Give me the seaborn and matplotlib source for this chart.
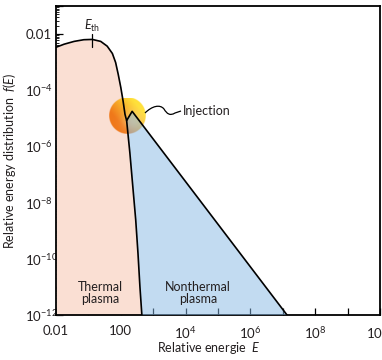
import numpy as np
import matplotlib
matplotlib.use("Agg")
import matplotlib.pyplot as plt
import seaborn as sns
from matplotlib.path import Path
from matplotlib.patches import PathPatch

# ---------------- data (axis positions in decades) ----------------
thermal_logE = [0.0, 0.25, 0.56, 0.86, 1.12, 1.38, 1.58, 1.74, 1.84, 1.92, 2.00, 2.07, 2.13,
                2.18, 2.28, 2.37, 2.46, 2.53, 2.59, 2.65]
thermal_logf = [-2.47, -2.36, -2.26, -2.20, -2.19, -2.26, -2.43, -2.69, -3.01, -3.43, -3.90, -4.38, -4.86,
                -5.08, -6.23, -7.42, -8.61, -9.80, -10.99, -12.0]
nonthermal_logE = [2.18, 2.35, 7.13]
nonthermal_logf = [-5.08, -4.75, -12.0]
eth_logE = 1.12
x_tick_pos = [0, 2, 4, 6, 8, 10]
x_tick_labels = ["0.01", "100", "$10^4$", "$10^6$", "$10^8$", "$10^{10}$"]
y_tick_pos = [-12, -10, -8, -6, -4, -2]
y_tick_labels = ["$10^{-12}$", "$10^{-10}$", "$10^{-8}$", "$10^{-6}$", "$10^{-4}$", "0.01"]
region_labels = ["Thermal\nplasma", "Nonthermal\nplasma"]
region_label_logE = [1.36, 4.38]

PINK = "#fadfd3"
BLUE = "#86b9e5"
TEXT = "#231f20"
FS = 9

sns.set_theme(style="ticks")
plt.rcParams["font.family"] = ["Lato", "DejaVu Sans"]
plt.rcParams["mathtext.fontset"] = "custom"
plt.rcParams["mathtext.rm"] = "Lato"
plt.rcParams["mathtext.it"] = "Lato:italic"
plt.rcParams["mathtext.bf"] = "Lato:bold"

th_E = 10.0 ** np.array(thermal_logE)
th_f = 10.0 ** np.array(thermal_logf)
nt_E = 10.0 ** np.array(nonthermal_logE)
nt_f = 10.0 ** np.array(nonthermal_logf)
YMIN, YMAX = 1e-12, 1e-1

fig, ax = plt.subplots(figsize=(3.82, 3.6), dpi=100)
fig.subplots_adjust(left=56 / 382, right=380 / 382, bottom=1 - 315 / 360, top=1 - 6 / 360)
ax.set_xscale("log")
ax.set_yscale("log")

# thermal region
ax.fill_between(th_E, th_f, YMIN, color=PINK, lw=0, zorder=1)
# nonthermal region: between the nonthermal line and the thermal curve
mask = np.array(thermal_logE) >= nonthermal_logE[0]
poly_E = np.concatenate([nt_E, th_E[mask][::-1]])
poly_f = np.concatenate([nt_f, th_f[mask][::-1]])
ax.fill(poly_E, poly_f, color=BLUE, alpha=0.5, lw=0, zorder=3)

# injection sphere
N = 240
u = np.linspace(-1, 1, N)
U, V = np.meshgrid(u, u)
R = np.sqrt(U ** 2 + V ** 2)
orange = np.array([0.94, 0.47, 0.10])
yellow = np.array([1.0, 0.88, 0.22])
t = np.clip(0.42 + 0.75 * (0.75 * U + 0.65 * V), 0, 1)[..., None]
base = orange * (1 - t) + yellow * t
h = np.exp(-((U - 0.3) ** 2 + (V + 0.3) ** 2) / 0.3)[..., None]
light = np.array([1.0, 0.98, 0.85])
col = base * (1 - 0.4 * h) + light * 0.4 * h
alpha = np.clip((1 - R) * N / 4, 0, 1)
img = np.dstack([col, alpha])
cx, cy, r = (127 - 56) / 324, (315 - 116) / 309, 18.5
iax = ax.inset_axes([cx - r / 324, cy - r / 309, 2 * r / 324, 2 * r / 309], zorder=2)
iax.imshow(img, extent=[-1, 1, -1, 1], origin="lower", aspect="auto", interpolation="bilinear")
iax.set_axis_off()

# curves
sns.lineplot(x=th_E, y=th_f, color="black", lw=1.2, sort=False, estimator=None, ax=ax, zorder=4)
sns.lineplot(x=nt_E, y=nt_f, color="black", lw=1.2, sort=False, estimator=None, ax=ax, zorder=4)

# E_th marker
ax.plot([10 ** eth_logE] * 2, [10 ** -2.0, 10 ** -2.46], color="black", lw=0.9, zorder=4)
ax.text(10 ** eth_logE, 10 ** -1.72, r"$E_{\mathrm{th}}$", ha="center", va="center", fontsize=FS, color=TEXT)

# injection connector and label
def fx(px):
    return (px - 56) / 324
def fy(py):
    return (315 - py) / 309
verts = [(fx(145), fy(113)), (fx(152), fy(106)), (fx(160), fy(104)), (fx(164), fy(109)),
         (fx(167), fy(114)), (fx(170), fy(116)), (fx(175), fy(113)), (fx(181), fy(111))]
codes = [Path.MOVETO, Path.CURVE4, Path.CURVE4, Path.CURVE4, Path.CURVE4, Path.CURVE4, Path.CURVE4, Path.LINETO]
ax.add_patch(PathPatch(Path(verts, codes), transform=ax.transAxes, fill=False, lw=0.9, color="black", zorder=5))
ax.text(fx(183), fy(111), "Injection", transform=ax.transAxes, ha="left", va="center", fontsize=FS, color=TEXT)

# region labels
for lbl, le in zip(region_labels, region_label_logE):
    ax.text(10 ** le, 10 ** -11.2, lbl, ha="center", va="center", fontsize=FS, color=TEXT, linespacing=1.0, zorder=6)

# axes
ax.set_xlim(1, 1e10)
ax.set_ylim(YMIN, YMAX)
xt = [10.0 ** k for k in range(0, 11)]
xl = [""] * len(xt)
for p, s in zip(x_tick_pos, x_tick_labels):
    xl[p] = s
ax.set_xticks(xt)
ax.set_xticklabels(xl)
ax.xaxis.set_minor_locator(matplotlib.ticker.NullLocator())
yt = [10.0 ** k for k in range(-12, 0)]
yl = [""] * len(yt)
for p, s in zip(y_tick_pos, y_tick_labels):
    yl[p + 12] = s
ax.set_yticks(yt)
ax.set_yticklabels(yl)
ax.yaxis.set_minor_locator(matplotlib.ticker.LogLocator(base=10, subs=np.arange(2, 10) * 1.0, numticks=50))
ax.yaxis.set_minor_formatter(matplotlib.ticker.NullFormatter())
ax.tick_params(axis="both", which="major", direction="in", length=5, width=0.9, color="black",
               labelsize=FS + 0.5, labelcolor=TEXT)
ax.tick_params(axis="y", which="minor", direction="in", length=2.5, width=0.6, color="black")
ax.tick_params(axis="x", which="major", pad=7)
ax.tick_params(axis="y", which="major", pad=22)
for lab in ax.get_yticklabels():
    lab.set_horizontalalignment("left")
    lab.set_verticalalignment("center_baseline")
for s in ax.spines.values():
    s.set_linewidth(1.3)
    s.set_color("black")

ax.set_xlabel("Relative energie  $E$", fontsize=FS, color=TEXT)
ax.set_ylabel("Relative energy distribution  $f(E)$", fontsize=FS, color=TEXT)
ax.xaxis.set_label_coords(0.472, -0.082)
ax.yaxis.set_label_coords(-0.117, 0.5)

fig.savefig("out.png", dpi=100)
